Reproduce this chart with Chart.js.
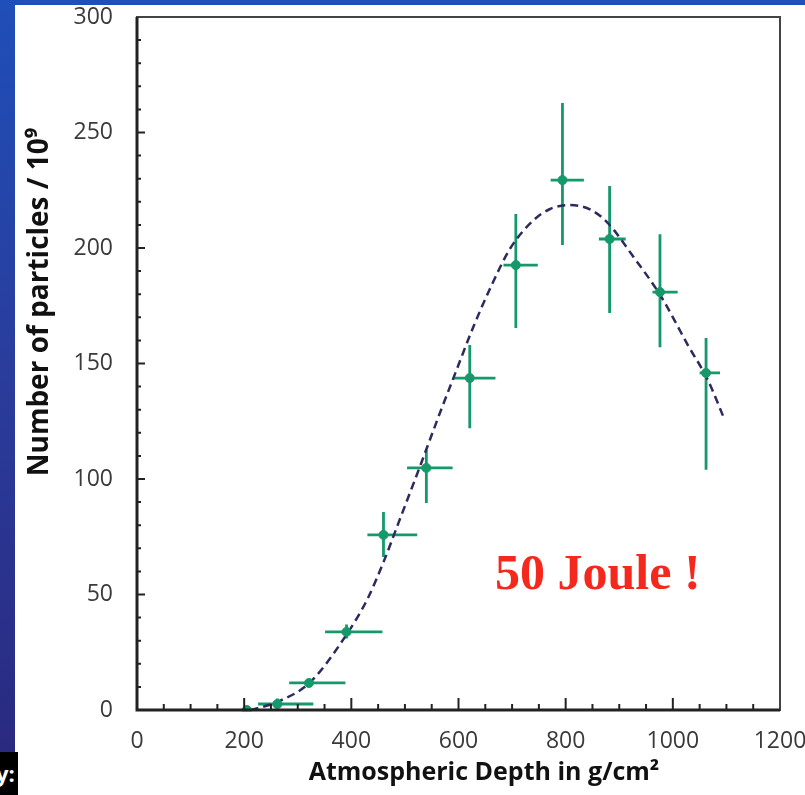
<!DOCTYPE html>
<html lang="en">

<head>
    <meta charset="UTF-8">
    <title>Atmospheric Depth - 50 Joule</title>
    <script src="https://cdn.jsdelivr.net/npm/chart.js@4"></script>
    <style>
        html, body { margin: 0; padding: 0; background: #fff; }
        body { width: 805px; height: 795px; overflow: hidden; position: relative; }
        #box { position: absolute; left: 0; top: 0; width: 830px; height: 795px; }
        .faixaEsq { position: absolute; left: 0; top: 0; width: 15px; height: 752px;
            background: linear-gradient(#1f4fb8, #2a3c9c 50%, #2a2a80); z-index: 2; }
        .faixaTopo { position: absolute; left: 0; top: 0; width: 805px; height: 5px; background: #1f4fb8; z-index: 2; }
        .canto { position: absolute; left: 0; top: 752px; width: 18px; height: 43px; background: #000;
            color: #fff; font: bold 22px "Open Sans", sans-serif; line-height: 43px; overflow: hidden; z-index: 2;
            text-indent: -4px; }
    </style>
</head>

<body>
    <div class="faixaTopo"></div>
    <div class="faixaEsq"></div>
    <div class="canto">y:</div>
    <div id="box"><canvas id="myChart"></canvas></div>

    <script>
        // pontos medidos (profundidade em g/cm2, numero de particulas / 10^9)
        const depth = [205, 262, 321, 391, 460, 540, 621, 707, 794, 882, 976, 1062];
        const particles = [0, 2.6, 11.7, 33.8, 75.8, 104.8, 143.7, 192.6, 229.4, 203.9, 180.9, 145.9];
        const depthLow = [195, 226, 284, 351, 430, 504, 590, 684, 772, 862, 962, 1050];
        const depthHigh = [215, 329, 389, 458, 523, 589, 669, 748, 834, 912, 1009, 1088];
        const partLow = [0, 1, 10.5, 31, 66.2, 89.6, 122, 165.4, 201.3, 171.9, 157, 104];
        const partHigh = [0, 5, 13, 37, 85.7, 112.6, 158, 214.7, 262.8, 226.8, 206, 161];

        // curva ajustada (tracejada)
        const fitX = [212, 262, 323, 392, 430, 460, 488, 529, 566, 591, 628, 660, 697, 740, 772, 809, 847, 878, 927, 978, 1028, 1065, 1097];
        const fitY = [0, 3.5, 12, 33, 48, 64, 81, 106, 129, 144, 166, 183, 200, 212, 217, 218.6, 216.5, 211, 196, 179, 158, 143, 125.5];

        const xTicks = [0, 200, 400, 600, 800, 1000, 1200];
        const yTicks = [0, 50, 100, 150, 200, 250, 300];

        const verde = '#15996b';
        const fonteEixo = '"Open Sans", sans-serif';

        // barras de erro, moldura, marcas internas e textos
        const extras = {
            id: 'extras',
            beforeDatasetsDraw(chart) {
                const ctx = chart.ctx, sx = chart.scales.x, sy = chart.scales.y;
                ctx.save();
                ctx.strokeStyle = verde;
                ctx.lineWidth = 2.8;
                depth.forEach((d, i) => {
                    const px = sx.getPixelForValue(d), py = sy.getPixelForValue(particles[i]);
                    ctx.beginPath();
                    ctx.moveTo(sx.getPixelForValue(depthLow[i]), py);
                    ctx.lineTo(sx.getPixelForValue(depthHigh[i]), py);
                    ctx.moveTo(px, sy.getPixelForValue(partLow[i]));
                    ctx.lineTo(px, sy.getPixelForValue(partHigh[i]));
                    ctx.stroke();
                });
                ctx.restore();
            },
            afterDraw(chart) {
                const ctx = chart.ctx, a = chart.chartArea, sx = chart.scales.x, sy = chart.scales.y;
                ctx.save();
                // moldura
                ctx.strokeStyle = '#444';
                ctx.lineWidth = 2;
                ctx.strokeRect(a.left, a.top, a.right - a.left, a.bottom - a.top);
                ctx.strokeStyle = '#222';
                ctx.lineWidth = 3;
                ctx.beginPath();
                ctx.moveTo(a.left, a.top); ctx.lineTo(a.left, a.bottom); ctx.lineTo(a.right, a.bottom);
                ctx.stroke();
                // marcas internas
                ctx.lineWidth = 2;
                ctx.beginPath();
                for (let v = 50; v < 1200; v += 50) {
                    const p = sx.getPixelForValue(v);
                    ctx.moveTo(p, a.bottom);
                    ctx.lineTo(p, a.bottom - (v % 200 === 0 ? 12 : 6));
                }
                for (let v = 10; v < 300; v += 10) {
                    const p = sy.getPixelForValue(v);
                    ctx.moveTo(a.left, p);
                    ctx.lineTo(a.left + (v % 50 === 0 ? 8 : 4), p);
                }
                ctx.stroke();
                // titulos dos eixos
                ctx.fillStyle = '#111';
                ctx.textAlign = 'center';
                ctx.textBaseline = 'middle';
                ctx.font = 'bold 25px ' + fonteEixo;
                ctx.fillText('Atmospheric Depth in g/cm²', 484, 773);
                ctx.translate(40, 302);
                ctx.rotate(-Math.PI / 2);
                ctx.font = 'bold 28px ' + fonteEixo;
                ctx.fillText('Number of particles / 10⁹', 0, 0);
                ctx.restore();
                // anotacao
                ctx.save();
                ctx.fillStyle = '#f4281c';
                ctx.font = 'bold 50px "Liberation Serif", "DejaVu Serif", serif';
                ctx.textAlign = 'center';
                ctx.textBaseline = 'middle';
                ctx.fillText('50 Joule !', sx.getPixelForValue(860), sy.getPixelForValue(58));
                ctx.restore();
            }
        };

        const config = {
            type: 'scatter',
            data: {
                datasets: [{
                    type: 'line',
                    label: 'Ajuste',
                    data: fitX.map((x, i) => ({ x: x, y: fitY[i] })),
                    borderColor: '#2b2b5e',
                    borderWidth: 2.5,
                    borderDash: [8, 5],
                    pointRadius: 0,
                    cubicInterpolationMode: 'monotone',
                    fill: false,
                    order: 2
                }, {
                    label: 'Dados',
                    data: depth.map((x, i) => ({ x: x, y: particles[i] })),
                    backgroundColor: verde,
                    borderColor: verde,
                    pointRadius: 4.5,
                    order: 1
                }]
            },
            options: {
                responsive: true,
                maintainAspectRatio: false,
                animation: false,
                layout: { padding: { left: 0, top: 17, right: 50, bottom: 0 } },
                plugins: {
                    legend: { display: false },
                    tooltip: { enabled: false }
                },
                scales: {
                    x: {
                        type: 'linear',
                        min: 0, max: 1200,
                        afterBuildTicks: (s) => { s.ticks = xTicks.map(v => ({ value: v })); },
                        afterFit: (s) => { s.height = 85; s.paddingLeft = 0; s.paddingRight = 0; },
                        grid: { display: false },
                        border: { display: false },
                        ticks: { color: '#3a3a3a', padding: 10, font: { family: fonteEixo, size: 23 }, maxRotation: 0,
                            callback: (v) => String(v) }
                    },
                    y: {
                        min: 0, max: 300,
                        afterBuildTicks: (s) => { s.ticks = yTicks.map(v => ({ value: v })); },
                        afterFit: (s) => { s.width = 137; s.paddingTop = 0; s.paddingBottom = 0; },
                        grid: { display: false },
                        border: { display: false },
                        ticks: { color: '#3a3a3a', padding: 16, font: { family: fonteEixo, size: 23 },
                            callback: (v) => String(v) }
                    }
                }
            },
            plugins: [extras]
        };

        new Chart(document.getElementById('myChart'), config);
    </script>
</body>

</html>
